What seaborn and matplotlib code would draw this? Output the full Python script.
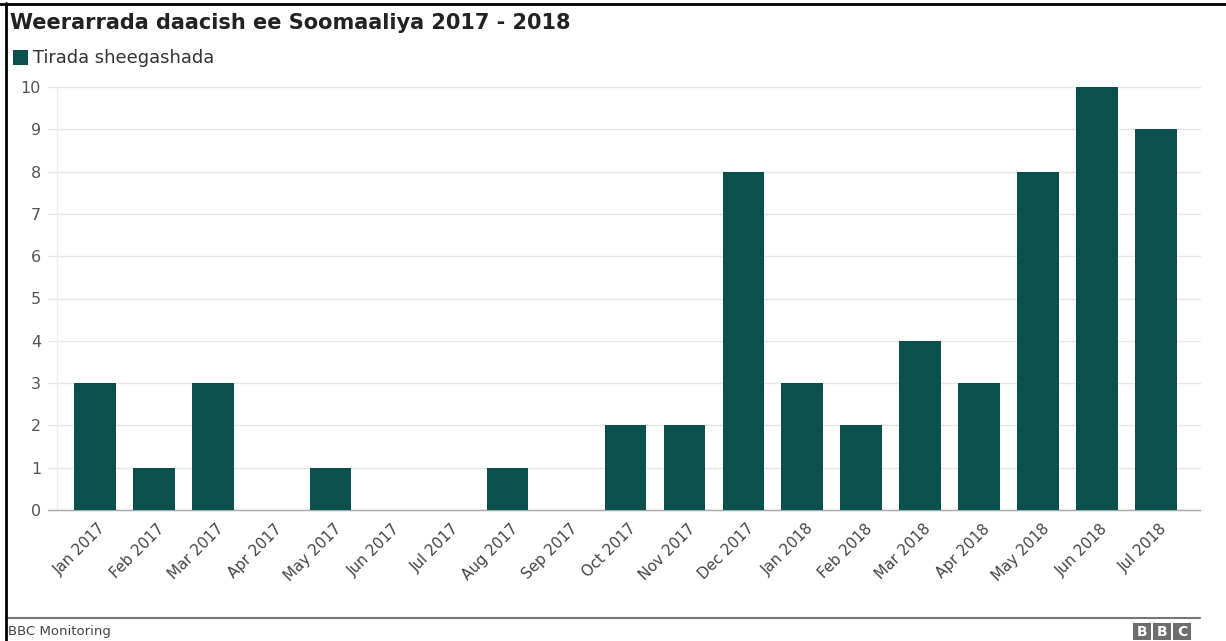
import matplotlib
matplotlib.use("Agg")
import matplotlib.pyplot as plt
import matplotlib.transforms as mtransforms
import seaborn as sns
import pandas as pd
from matplotlib.patches import Rectangle
from matplotlib.lines import Line2D

months = ["Jan 2017", "Feb 2017", "Mar 2017", "Apr 2017", "May 2017", "Jun 2017",
          "Jul 2017", "Aug 2017", "Sep 2017", "Oct 2017", "Nov 2017", "Dec 2017",
          "Jan 2018", "Feb 2018", "Mar 2018", "Apr 2018", "May 2018", "Jun 2018",
          "Jul 2018"]
attacks = [3, 1, 3, 0, 1, 0, 0, 1, 0, 2, 2, 8, 3, 2, 4, 3, 8, 10, 9]
yticks = list(range(0, 11))

title = "Weerarrada daacish ee Soomaaliya 2017 - 2018"
series_name = "Tirada sheegashada"
source = "BBC Monitoring"

bar_color = "#0b504d"

sns.set_theme(style="white")
plt.rcParams['font.family'] = ['DejaVu Sans']

W, H = 1226, 641
fig = plt.figure(figsize=(W / 100, H / 100), dpi=100)
fig.patch.set_facecolor("white")

ax = fig.add_axes([48 / W, 1 - 510 / H, 1152 / W, (510 - 87) / H])
df = pd.DataFrame({"month": months, "value": attacks})
sns.barplot(data=df, x="month", y="value", color=bar_color, saturation=1,
            width=0.71, ax=ax, zorder=3)
for p in ax.patches:
    p.set_edgecolor("none")

ax.set_xlim(-0.79, 18.74)
ax.set_ylim(0, 10)
ax.set_yticks(yticks)
ax.set_yticklabels([str(v) for v in yticks], fontsize=11.5, color="#555555")
ax.yaxis.grid(True, color="#e6e6e6", linewidth=1, zorder=0)
for ln in ax.get_ygridlines():
    ln.set_clip_on(False)
ax.set_xlabel("")
ax.set_ylabel("")
for s in ["top", "right", "left"]:
    ax.spines[s].set_visible(False)
ax.spines["bottom"].set_color("#aaaaaa")
ax.spines["bottom"].set_linewidth(1)
ax.tick_params(axis="y", length=0, pad=5)
ax.tick_params(axis="x", length=0, pad=8)
ax.set_xticks(range(len(months)))
ax.set_xticklabels(months, rotation=45, ha="right", rotation_mode="anchor",
                   fontsize=10.8, color="#444444")
offset = mtransforms.ScaledTranslation(3 / 100, 0, fig.dpi_scale_trans)
for lab in ax.get_xticklabels():
    lab.set_verticalalignment("top")
    lab.set_transform(lab.get_transform() + offset)

# faint y axis line
ax.axvline(-0.63, color="#eeeeee", linewidth=1, zorder=1)

# title and legend
fig.text(10 / W, 1 - 23 / H, title, fontsize=15, fontweight="bold",
         color="#222222", va="center", ha="left")
fig.patches.append(Rectangle((13 / W, 1 - 65 / H), 15 / W, 15 / H,
                             transform=fig.transFigure, facecolor=bar_color,
                             edgecolor="none"))
fig.text(33 / W, 1 - 58 / H, series_name, fontsize=12.9, color="#333333",
         va="center", ha="left")

# footer
fig.lines.append(Line2D([6 / W, 1200 / W], [1 - 618 / H, 1 - 618 / H],
                        transform=fig.transFigure, color="#777777", linewidth=1.5))
fig.text(8 / W, 1 - 632 / H, source, fontsize=9.5, color="#444444",
         va="center", ha="left")
for i, ch in enumerate("BBC"):
    x0 = 1133 + i * 20
    fig.patches.append(Rectangle((x0 / W, 1 - 640 / H), 18 / W, 17 / H,
                                 transform=fig.transFigure, facecolor="#6e6e6e",
                                 edgecolor="none"))
    fig.text((x0 + 9) / W, 1 - 631.5 / H, ch, fontsize=10, fontweight="bold",
             color="white", va="center", ha="center")

# outer border (top and left)
fig.lines.append(Line2D([0, 1], [1 - 4 / H, 1 - 4 / H],
                        transform=fig.transFigure, color="black", linewidth=2))
fig.lines.append(Line2D([6 / W, 6 / W], [0, 1 - 3 / H],
                        transform=fig.transFigure, color="black", linewidth=2))

fig.savefig("out.png", dpi=100)
